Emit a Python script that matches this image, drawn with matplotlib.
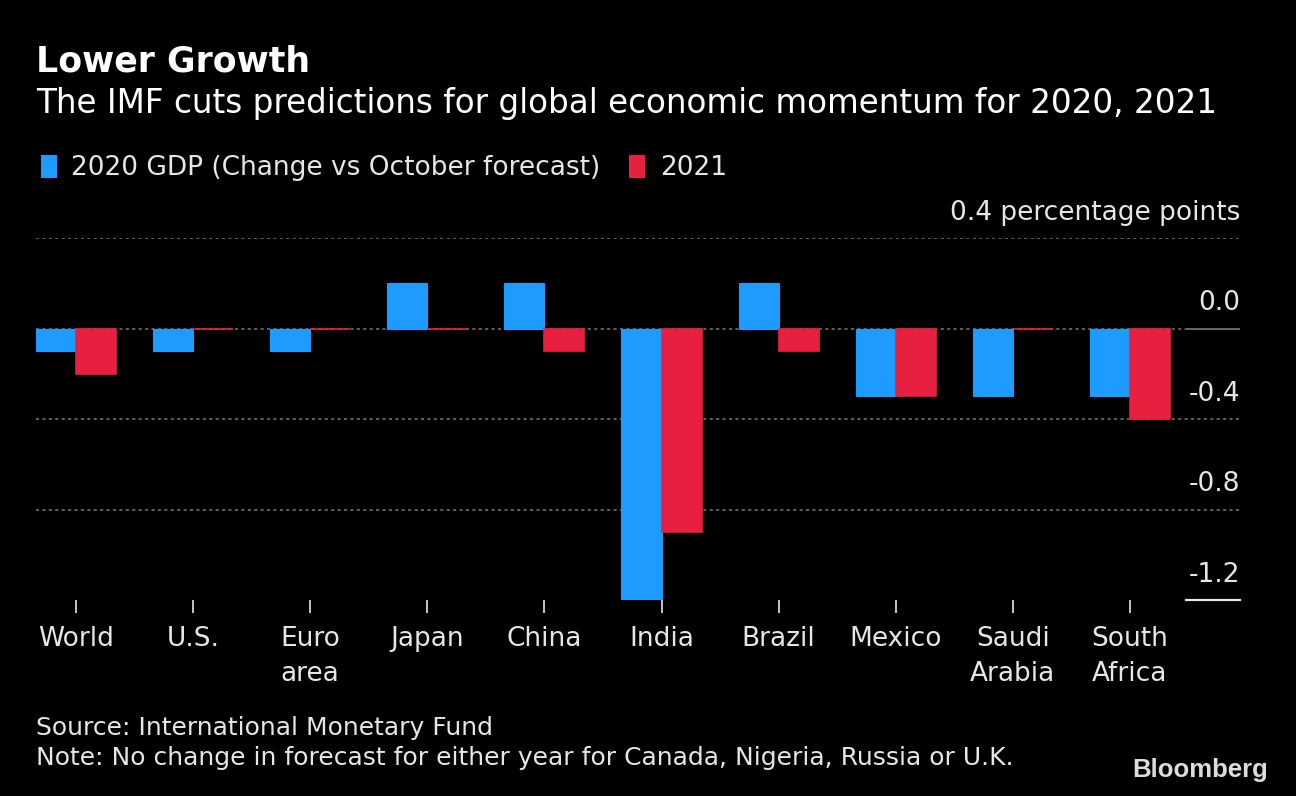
import matplotlib
matplotlib.use("Agg")
import matplotlib.pyplot as plt
from matplotlib.patches import Patch
import numpy as np

plt.rcParams['font.family'] = ['DejaVu Sans']

# === data ===
countries = ["World", "U.S.", "Euro\narea", "Japan", "China", "India",
             "Brazil", "Mexico", "Saudi\nArabia", "South\nAfrica"]
gdp_2020 = [-0.1, -0.1, -0.1, 0.2, 0.2, -1.2, 0.2, -0.3, -0.3, -0.3]
gdp_2021 = [-0.2, 0.0, 0.0, 0.0, -0.1, -0.9, -0.1, -0.3, 0.0, -0.4]
y_ticks = [0.0, -0.4, -0.8, -1.2]
y_tick_labels = ["0.0", "-0.4", "-0.8", "-1.2"]
series_labels = ["2020 GDP (Change vs October forecast)", "2021"]

BLUE = "#1d9bff"
RED = "#e8203f"
TXT = "#e6e6e6"
GRID = "#7a7a7a"

fig = plt.figure(figsize=(12.96, 7.96), dpi=100, facecolor="black")
ax = fig.add_axes([36 / 1296, 1 - 600 / 796, 1204 / 1296, 362 / 796])
ax.set_facecolor("black")

x = np.arange(len(countries))
w = 0.342
ax.bar(x - w / 2, gdp_2020, width=w, color=BLUE, edgecolor=BLUE, linewidth=0.8, zorder=3)
ax.bar(x + w / 2, gdp_2021, width=w, color=RED, edgecolor=RED, linewidth=1.2, zorder=3)

ax.set_xlim(-w, -w + 1204 / 117.1)
ax.set_ylim(-1.2, 0.4)

# grid lines
for g in [0.4, -0.4, -0.8]:
    ax.axhline(g, color=GRID, linestyle=(0, (2, 2.2)), linewidth=1.1, zorder=1)
ax.axhline(0.0, xmax=0.954, color=GRID, linestyle=(0, (2, 2.2)), linewidth=1.1, zorder=1)
ax.axhline(0.0, xmin=0.955, color=GRID, linewidth=1.2, zorder=1)
ax.axhline(-1.2, xmin=0.955, color=TXT, linewidth=1.6, zorder=1, clip_on=False)

# y labels on right, above the lines
ytr = ax.get_yaxis_transform()
for v, lab in zip(y_ticks, y_tick_labels):
    ax.text(1.0, v + 0.055, lab, transform=ytr, ha="right", va="bottom",
            color=TXT, fontsize=19)
ax.text(1.0, 0.4 + 0.055, "0.4 percentage points", transform=ytr, ha="right",
        va="bottom", color=TXT, fontsize=19)
ax.set_yticks([])

ax.set_xticks(x)
ax.set_xticklabels(countries, color=TXT, fontsize=19, linespacing=1.45)
ax.tick_params(axis="x", length=9, width=1.2, color=TXT, pad=10)
for s in ax.spines.values():
    s.set_visible(False)

# titles
fig.text(36 / 1296, 1 - 62 / 796, "Lower Growth", color="white", fontsize=25,
         fontweight="bold", va="center", ha="left")
fig.text(36 / 1296, 1 - 104 / 796,
         "The IMF cuts predictions for global economic momentum for 2020, 2021",
         color="white", fontsize=23.5, va="center", ha="left")

handles = [Patch(facecolor=BLUE, label=series_labels[0]),
           Patch(facecolor=RED, label=series_labels[1])]
leg = fig.legend(handles=handles, loc="center left",
                 bbox_to_anchor=(17 / 1296, 1 - 168 / 796), ncol=2, frameon=False,
                 fontsize=19, handlelength=0.6, handleheight=1.0,
                 handletextpad=0.55, columnspacing=1.1)
for t in leg.get_texts():
    t.set_color(TXT)

fig.text(36 / 1296, 1 - 728 / 796, "Source: International Monetary Fund",
         color=TXT, fontsize=18, va="center", ha="left")
fig.text(36 / 1296, 1 - 758 / 796,
         "Note: No change in forecast for either year for Canada, Nigeria, Russia or U.K.",
         color=TXT, fontsize=18, va="center", ha="left")
fig.text(1268 / 1296, 1 - 770 / 796, "Bloomberg", color="#dddddd", fontsize=18.5,
         fontweight="bold", va="center", ha="right", family=["Liberation Sans", "DejaVu Sans"])

fig.savefig("out.png", dpi=100, facecolor="black")
